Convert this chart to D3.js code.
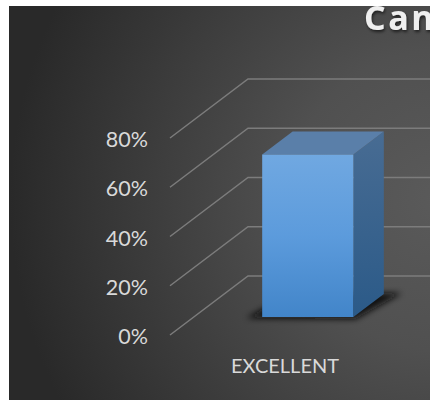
<!DOCTYPE html>
<html><head><meta charset="utf-8">
<script src="https://cdnjs.cloudflare.com/ajax/libs/d3/7.8.5/d3.min.js"></script>
<style>html,body{margin:0;padding:0;background:#fff}svg{display:block}</style>
</head><body><div id="chart"></div>
<script>
const categories = ["EXCELLENT"];
const seriesValues = [66];
const tickValues = [0, 20, 40, 60, 80];
const titleText = "Can";

const W = 434, H = 401;
const panel = {x: 9, y: 6, w: 421, h: 394};
const svg = d3.select("#chart").append("svg").attr("width", W).attr("height", H);
const defs = svg.append("defs");

const y = d3.scaleLinear().domain([0, 80]).range([335, 138]);
const x = d3.scaleBand().domain(categories).range([170, 398]).paddingInner(0).paddingOuter(0.75);
const depthX = d3.scaleLinear().domain([0, 1]).range([0, 78]);
const depthY = d3.scaleLinear().domain([0, 1]).range([0, -59]);
const gridRight = 500;
const barDepth = [0.305, 0.695];

function lin(id, stops, x2 = 0, y2 = 1) {
  const g = defs.append("linearGradient").attr("id", id)
    .attr("x1", 0).attr("y1", 0).attr("x2", x2).attr("y2", y2);
  stops.forEach(s => g.append("stop").attr("offset", s[0]).attr("stop-color", s[1]));
}
const bg = defs.append("radialGradient").attr("id", "bg")
  .attr("gradientUnits", "userSpaceOnUse")
  .attr("cx", 440).attr("cy", 200).attr("r", 430);
bg.append("stop").attr("offset", 0).attr("stop-color", "#5a5a5a");
bg.append("stop").attr("offset", 0.35).attr("stop-color", "#505050");
bg.append("stop").attr("offset", 1).attr("stop-color", "#292929");
lin("front", [[0, "#70a8e1"], [0.5, "#5c9bdc"], [1, "#4285c9"]]);
lin("side", [[0, "#486c93"], [1, "#2b5a88"]]);
defs.append("filter").attr("id", "blur").attr("x", "-30%").attr("y", "-60%").attr("width", "160%").attr("height", "220%")
  .append("feGaussianBlur").attr("stdDeviation", 3);
defs.append("filter").attr("id", "titleShadow").attr("x", "-10%").attr("y", "-20%").attr("width", "120%").attr("height", "150%")
  .append("feDropShadow").attr("dx", 1).attr("dy", 2).attr("stdDeviation", 1.5).attr("flood-color", "#000").attr("flood-opacity", 0.6);
defs.append("clipPath").attr("id", "clip").append("rect")
  .attr("x", panel.x).attr("y", panel.y).attr("width", panel.w).attr("height", panel.h);

const root = svg.append("g").attr("clip-path", "url(#clip)");
root.append("rect").attr("x", panel.x).attr("y", panel.y).attr("width", panel.w).attr("height", panel.h).attr("fill", "url(#bg)");

root.append("text").attr("x", 364).attr("y", 30)
  .attr("font-family", "'Open Sans', sans-serif").attr("font-weight", 700).attr("font-size", 34)
  .attr("letter-spacing", 2.5).attr("fill", "#efefef").attr("filter", "url(#titleShadow)")
  .text(titleText);

// gridlines: floor-diagonal then back wall
root.append("g").selectAll("path").data(tickValues).join("path")
  .attr("fill", "none").attr("stroke", "#7c7c7c").attr("stroke-width", 1.5)
  .attr("d", d => {
    const p = d3.path();
    p.moveTo(170, y(d));
    p.lineTo(170 + depthX(1), y(d) + depthY(1));
    p.lineTo(gridRight, y(d) + depthY(1));
    return p.toString();
  });

// tick labels
root.append("g").selectAll("text").data(tickValues).join("text")
  .attr("x", 148).attr("y", d => y(d) + 1.5)
  .attr("dy", "0.35em").attr("text-anchor", "end")
  .attr("font-family", "Lato, sans-serif").attr("font-size", 21.5).attr("fill", "#d9d9d9")
  .text(d => d + "%");

// category labels
root.append("g").selectAll("text").data(categories).join("text")
  .attr("x", c => x(c) + x.bandwidth() / 2 + 1).attr("y", 373)
  .attr("text-anchor", "middle")
  .attr("font-family", "Lato, sans-serif").attr("font-size", 20).attr("fill", "#d9d9d9")
  .text(c => c);

// bars
const bars = root.append("g").selectAll("g").data(categories.map((c, i) => ({c, v: seriesValues[i]}))).join("g");
const pt = (px, v, d) => [px + depthX(d), y(v) + depthY(d)];
const poly = pts => pts.map(p => p.join(",")).join(" ");
bars.each(function (d) {
  const g = d3.select(this);
  const x0 = x(d.c), x1 = x0 + x.bandwidth();
  const [a, b] = barDepth;
  g.append("polygon").attr("filter", "url(#blur)").attr("fill", "#0c0c0c").attr("fill-opacity", 0.95)
    .attr("points", poly([[pt(x0, 0, a)[0] - 16, pt(x0, 0, a)[1] + 1], [pt(x1, 0, a)[0] + 2, pt(x1, 0, a)[1] + 2],
      [pt(x1, 0, b)[0] + 18, pt(x1, 0, b)[1] - 1], [pt(x0, 0, b)[0], pt(x1, 0, b)[1] - 1]]));
  g.append("polygon").attr("fill", "url(#side)")
    .attr("points", poly([pt(x1, 0, a), pt(x1, d.v, a), pt(x1, d.v, b), pt(x1, 0, b)]));
  g.append("polygon").attr("fill", "#5a7fa9")
    .attr("points", poly([pt(x0, d.v, a), pt(x1, d.v, a), pt(x1, d.v, b), pt(x0, d.v, b)]));
  g.append("polygon").attr("fill", "url(#front)")
    .attr("points", poly([pt(x0, 0, a), pt(x1, 0, a), pt(x1, d.v, a), pt(x0, d.v, a)]));
});
</script></body></html>
